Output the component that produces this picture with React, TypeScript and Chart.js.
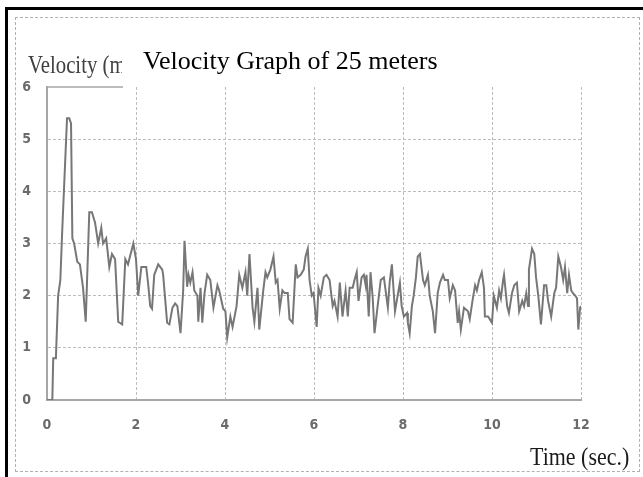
import React, { useEffect, useRef } from "react";
import { Chart, registerables } from "chart.js";

Chart.register(...registerables);

const chartTitle = "Velocity Graph of 25 meters";
const yAxisTitle = "Velocity (m/s)";
const xAxisTitle = "Time (sec.)";

const xTickStep = 2;
const yTickStep = 1;
const xMin = 0;
const xMax = 12;
const yMin = 0;
const yMax = 6;

// time (s)
const times: number[] = [
  0, 0.12, 0.14, 0.2, 0.25, 0.3, 0.34, 0.45, 0.5, 0.54, 0.57, 0.61, 0.68, 0.74, 0.81, 0.87,
  0.95, 1.01, 1.08, 1.15, 1.22, 1.26, 1.33, 1.4, 1.46, 1.53, 1.6, 1.69, 1.76, 1.82, 1.94, 2.0,
  2.05, 2.12, 2.16, 2.23, 2.27, 2.32, 2.36, 2.41, 2.5, 2.59, 2.61, 2.7, 2.75, 2.82, 2.88, 2.93,
  3.0, 3.06, 3.09, 3.15, 3.18, 3.22, 3.27, 3.31, 3.38, 3.4, 3.45, 3.49, 3.54, 3.6, 3.67, 3.74,
  3.83, 3.87, 3.96, 4.01, 4.05, 4.12, 4.17, 4.26, 4.32, 4.39, 4.46, 4.5, 4.55, 4.62, 4.66, 4.73,
  4.77, 4.86, 4.91, 4.95, 5.02, 5.09, 5.14, 5.18, 5.23, 5.29, 5.34, 5.41, 5.45, 5.52, 5.59, 5.63,
  5.7, 5.77, 5.81, 5.86, 5.9, 5.95, 5.99, 6.06, 6.1, 6.15, 6.22, 6.28, 6.35, 6.42, 6.46, 6.53,
  6.58, 6.64, 6.71, 6.76, 6.8, 6.87, 6.91, 6.96, 7.0, 7.07, 7.12, 7.16, 7.18, 7.23, 7.27, 7.32,
  7.36, 7.43, 7.5, 7.57, 7.66, 7.7, 7.75, 7.82, 7.88, 7.93, 7.97, 8.02, 8.09, 8.11, 8.15, 8.2,
  8.24, 8.29, 8.33, 8.38, 8.45, 8.49, 8.56, 8.6, 8.67, 8.72, 8.78, 8.83, 8.9, 8.94, 9.01, 9.05,
  9.12, 9.17, 9.23, 9.26, 9.3, 9.37, 9.46, 9.5, 9.57, 9.62, 9.66, 9.71, 9.77, 9.82, 9.84, 9.91,
  9.95, 10.0, 10.04, 10.11, 10.16, 10.2, 10.25, 10.27, 10.34, 10.38, 10.45, 10.5, 10.56, 10.61, 10.68, 10.72,
  10.77, 10.81, 10.83, 10.9, 10.95, 10.99, 11.04, 11.1, 11.17, 11.22, 11.26, 11.33, 11.4, 11.44, 11.49, 11.55,
  11.6, 11.64, 11.69, 11.73, 11.78, 11.82, 11.87, 11.91, 11.94, 11.98, 12.0,
];

// velocity (m/s)
const velocity: number[] = [
  0, 0, 0.8, 0.8, 2.0, 2.3, 3.2, 5.4, 5.4, 5.3, 3.1, 3.0, 2.65, 2.6, 2.15, 1.5,
  3.6, 3.6, 3.4, 3.0, 3.3, 3.0, 3.1, 2.55, 2.8, 2.7, 1.5, 1.45, 2.7, 2.6, 3.0, 2.7,
  2.0, 2.55, 2.55, 2.55, 2.25, 1.8, 1.75, 2.4, 2.6, 2.5, 2.4, 1.48, 1.45, 1.77, 1.85, 1.8,
  1.28, 2.1, 3.05, 2.17, 2.4, 2.25, 2.45, 2.1, 2.0, 1.5, 2.15, 1.48, 2.05, 2.4, 2.3, 1.77,
  2.2, 2.1, 1.75, 1.7, 1.2, 1.6, 1.4, 1.8, 2.4, 2.15, 2.45, 2.0, 2.8, 1.77, 1.5, 2.15,
  1.35, 2.1, 2.45, 2.35, 2.5, 2.75, 2.25, 2.3, 1.75, 2.1, 2.05, 2.05, 1.55, 1.48, 2.6, 2.35,
  2.4, 2.5, 2.75, 2.9, 2.3, 2.0, 2.05, 1.4, 2.15, 2.0, 2.35, 2.4, 2.3, 1.8, 1.9, 1.6,
  2.25, 1.6, 2.1, 1.6, 2.15, 2.15, 2.3, 2.45, 1.9, 2.35, 2.4, 2.2, 2.4, 1.6, 2.45, 1.95,
  1.28, 1.8, 2.3, 2.35, 1.77, 2.25, 2.6, 1.7, 2.0, 2.25, 1.8, 1.6, 1.67, 1.48, 1.28, 1.8,
  2.0, 2.35, 2.75, 2.8, 2.3, 2.2, 2.4, 2.0, 1.7, 1.28, 2.05, 2.25, 2.4, 2.3, 2.3, 1.95,
  2.2, 2.1, 1.48, 1.7, 1.35, 1.77, 1.7, 1.55, 1.95, 2.2, 2.1, 2.3, 2.45, 2.15, 1.6, 1.6,
  1.55, 1.48, 2.0, 1.77, 2.1, 1.95, 2.3, 2.4, 1.8, 1.67, 2.05, 2.2, 2.25, 1.7, 1.9, 1.8,
  2.05, 1.8, 2.5, 2.9, 2.8, 2.35, 2.0, 1.45, 2.2, 2.2, 1.9, 1.6, 2.05, 2.15, 2.75, 2.55,
  2.3, 2.55, 2.05, 2.4, 2.1, 2.05, 2.0, 1.95, 1.35, 1.77, 1.8,
];

const tickFont = { family: "'DejaVu Sans Condensed', 'DejaVu Sans', sans-serif", size: 14, weight: "bold" as const };
const tickColor = "#6b6b6b";
const gridColor = "#bdbdbd";
const axisColor = "#a6a6a6";
const lineColor = "#777777";

const topStubPlugin = {
  id: "topStub",
  afterDraw(chart: any) {
    const { ctx, chartArea } = chart;
    ctx.save();
    ctx.strokeStyle = axisColor;
    ctx.lineWidth = 1.5;
    ctx.beginPath();
    ctx.moveTo(chartArea.left, chartArea.top);
    ctx.lineTo(chartArea.left + 76, chartArea.top);
    ctx.stroke();
    ctx.restore();
  },
};

export default function App() {
  const canvasRef = useRef<HTMLCanvasElement | null>(null);

  useEffect(() => {
    if (!canvasRef.current) return;
    const points = times.map((t, i) => ({ x: t, y: velocity[i] }));
    const chart = new Chart(canvasRef.current, {
      type: "line",
      data: {
        datasets: [
          {
            data: points,
            borderColor: lineColor,
            borderWidth: 2,
            pointRadius: 0,
            tension: 0,
            fill: false,
          },
        ],
      },
      options: {
        animation: false,
        responsive: false,
        devicePixelRatio: 1,
        layout: { padding: { top: 87, right: 62, left: 0, bottom: 0 } },
        plugins: {
          legend: { display: false },
          tooltip: { enabled: false },
          title: { display: false },
        },
        scales: {
          x: {
            type: "linear",
            min: xMin,
            max: xMax,
            ticks: { stepSize: xTickStep, font: tickFont, color: tickColor, padding: 17, maxRotation: 0 },
            grid: { color: gridColor, lineWidth: 1, drawTicks: false },
            border: { display: true, color: axisColor, width: 2, dash: [3, 2] },
            afterFit(scale: any) {
              scale.height = 77;
            },
          },
          y: {
            type: "linear",
            min: yMin,
            max: yMax,
            ticks: { stepSize: yTickStep, font: tickFont, color: tickColor, padding: 16 },
            grid: {
              color: (c: any) => (c.tick && c.tick.value === yMax ? "rgba(0,0,0,0)" : gridColor),
              lineWidth: 1,
              drawTicks: false,
            },
            border: { display: true, color: axisColor, width: 2, dash: [3, 2] },
            afterFit(scale: any) {
              scale.width = 47;
            },
          },
        },
      },
      plugins: [topStubPlugin],
    });
    return () => chart.destroy();
  }, []);

  return (
    <div
      style={{
        position: "absolute",
        left: 0,
        top: 0,
        width: 643,
        height: 477,
        overflow: "hidden",
        background: "#fff",
      }}
    >
      <div
        style={{
          position: "absolute",
          left: 5,
          top: 7,
          width: 700,
          height: 600,
          borderTop: "3px solid #000",
          borderLeft: "3px solid #000",
        }}
      />
      <div
        style={{
          position: "absolute",
          left: 15,
          top: 17,
          width: 625,
          height: 455,
          boxSizing: "border-box",
          border: "1px dashed #b0b0b0",
        }}
      />
      <canvas
        ref={canvasRef}
        width={643}
        height={477}
        style={{ position: "absolute", left: 0, top: 0, width: 643, height: 477 }}
      />
      <div
        style={{
          position: "absolute",
          left: 28,
          top: 52,
          width: 94,
          height: 30,
          overflow: "hidden",
          whiteSpace: "nowrap",
        }}
      >
        <span
          style={{
            display: "inline-block",
            fontFamily: "'Liberation Serif', 'Times New Roman', serif",
            fontSize: 26,
            lineHeight: "26px",
            color: "#404040",
            transform: "scaleX(0.8)",
            transformOrigin: "left top",
          }}
        >
          {yAxisTitle}
        </span>
      </div>
      <div
        style={{
          position: "absolute",
          left: 143,
          top: 48,
          whiteSpace: "nowrap",
          fontFamily: "'Liberation Serif', 'Times New Roman', serif",
          fontSize: 26,
          lineHeight: "26px",
          color: "#000",
        }}
      >
        {chartTitle}
      </div>
      <div
        style={{
          position: "absolute",
          left: 530,
          top: 444,
          whiteSpace: "nowrap",
          fontFamily: "'Liberation Serif', 'Times New Roman', serif",
          fontSize: 26,
          lineHeight: "26px",
          color: "#1a1a1a",
          transform: "scaleX(0.845)",
          transformOrigin: "left top",
        }}
      >
        {xAxisTitle}
      </div>
    </div>
  );
}
